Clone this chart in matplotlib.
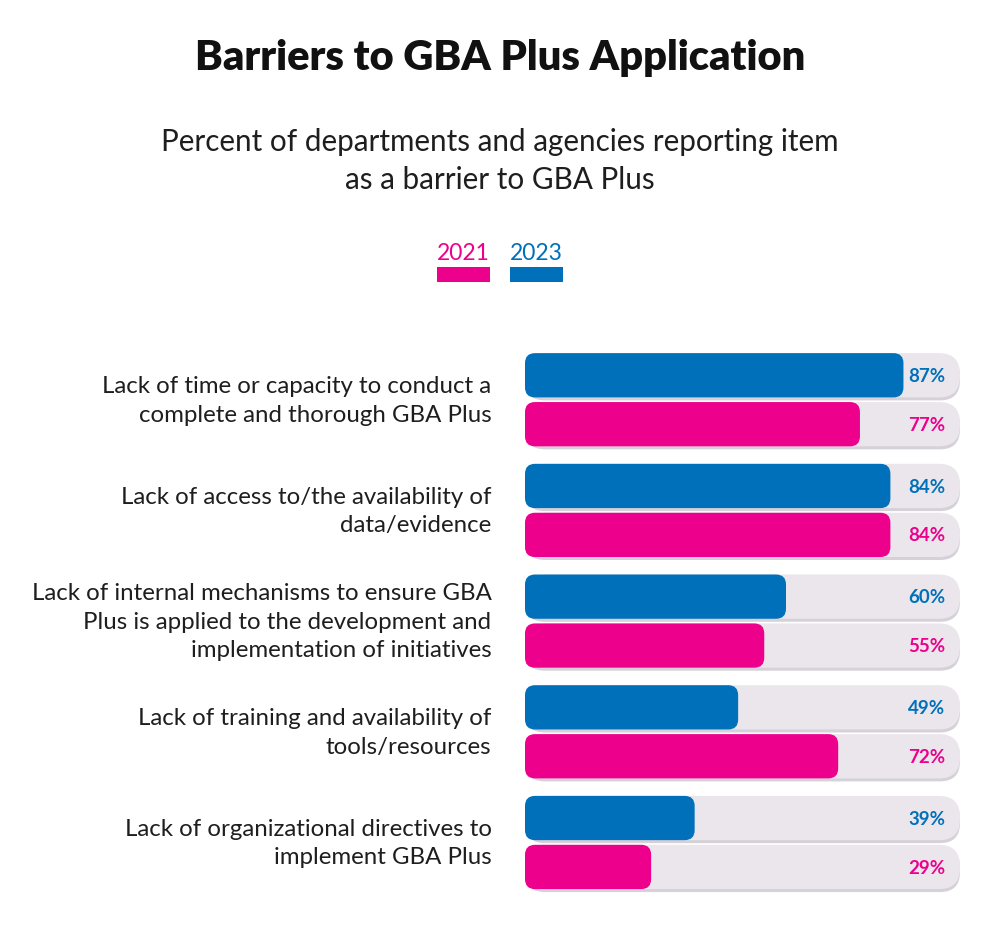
import matplotlib
matplotlib.use('Agg')
import matplotlib.pyplot as plt
from matplotlib.patches import FancyBboxPatch, Rectangle

# ========== DATA ==========
categories = [
    "Lack of time or capacity to conduct a\ncomplete and thorough GBA Plus",
    "Lack of access to/the availability of\ndata/evidence",
    "Lack of internal mechanisms to ensure GBA\nPlus is applied to the development and\nimplementation of initiatives",
    "Lack of training and availability of\ntools/resources",
    "Lack of organizational directives to\nimplement GBA Plus",
]
values_2023 = [87, 84, 60, 49, 39]
values_2021 = [77, 84, 55, 72, 29]
series_names = ["2021", "2023"]

# ========== STYLE ==========
BLUE = '#0070BA'
PINK = '#EC008C'
TRACK = '#EAE6EC'
SHADOW = '#D6D1D9'
TEXT = '#1E1E1E'
FONT = 'Lato'

W, H = 1000, 940
BAR_H = 0.40
OFFSET = 0.221

fig = plt.figure(figsize=(W / 100, H / 100), dpi=100)
fig.patch.set_facecolor('white')

# axes placed in pixels: x 525..960 (0..100%), y 330..910
ax = fig.add_axes([525 / W, 1 - 910 / H, 435 / W, 580 / H])
ax.set_xlim(0, 100)
ax.set_ylim(4.61, -0.63)
ax.axis('off')

# px per data unit, used to keep corners circular
px_x = 435 / 100
px_y = 580 / (4.61 + 0.63)
aspect = px_x / px_y


def rounded(x0, y0, w, h, r_px, color, zorder):
    r = r_px / px_x
    p = FancyBboxPatch((x0, y0), w, h,
                       boxstyle=f"round,pad=0,rounding_size={r}",
                       mutation_aspect=aspect,
                       facecolor=color, edgecolor='none',
                       zorder=zorder, clip_on=False)
    ax.add_patch(p)


for i, cat in enumerate(categories):
    for val, off, col in ((values_2023[i], -OFFSET, BLUE),
                          (values_2021[i], OFFSET, PINK)):
        yc = i + off
        # shadow + track
        rounded(0, yc - BAR_H / 2 + 3 / px_y, 100, BAR_H, 20, SHADOW, 1)
        rounded(0, yc - BAR_H / 2, 100, BAR_H, 21, TRACK, 2)
        # bar
        rounded(0, yc - BAR_H / 2, val, BAR_H, 10, col, 3)
        ax.text(96.6, yc + 0.01, f"{val}%", ha='right', va='center',
                fontsize=13.5, fontweight='bold', color=col, family=FONT,
                zorder=4)
    ax.text(-7.7, i + 0.01, cat, ha='right', va='center', multialignment='right',
            fontsize=17.3, color=TEXT, family=FONT, linespacing=1.45)

# ========== TITLES ==========
fig.text(0.5, 1 - 58 / H, "Barriers to GBA Plus Application", ha='center',
         va='center', fontsize=30, fontweight='heavy', color='#111111', family=FONT)
fig.text(0.5, 1 - 161 / H,
         "Percent of departments and agencies reporting item\nas a barrier to GBA Plus",
         ha='center', va='center', fontsize=21.3, color=TEXT, family=FONT,
         linespacing=1.43)

# ========== LEGEND ==========
for name, col, x0 in zip(series_names, [PINK, BLUE], [437, 510]):
    fig.text((x0 + 26.5) / W, 1 - 253 / H, name, ha='center', va='center',
             fontsize=16.5, color=col, family=FONT)
    fig.patches.append(Rectangle((x0 / W, 1 - 282 / H), 53 / W, 15 / H,
                                 transform=fig.transFigure, facecolor=col,
                                 edgecolor='none'))

fig.savefig('out.png', dpi=100, facecolor='white')
